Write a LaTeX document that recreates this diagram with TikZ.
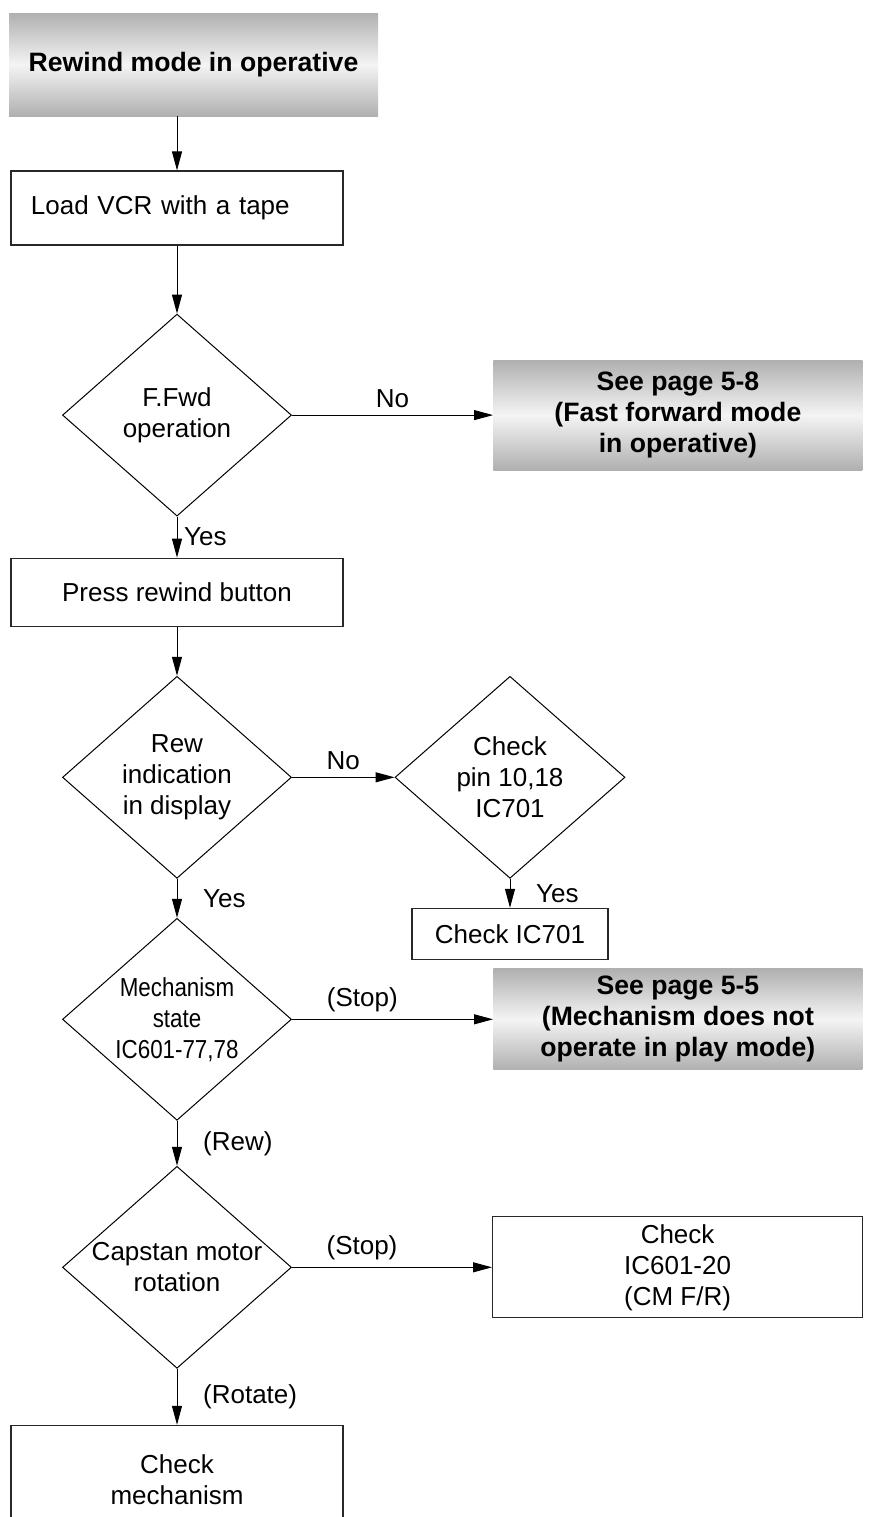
\documentclass[tikz,border=0pt]{standalone}
\usepackage{fontspec}
\setmainfont{Liberation Sans}
\newfontfamily\narrowfont[FakeStretch=0.86]{Liberation Sans}
\usetikzlibrary{shapes.geometric, arrows.meta, positioning}
\definecolor{mydark}{RGB}{40,40,40}
\definecolor{shadeedge}{RGB}{176,176,176}
\definecolor{shademid}{RGB}{244,244,244}
\tikzset{
  stepbox/.style={rectangle, draw=mydark, line width=0.6pt,
    align=center, inner sep=0pt},
  decision/.style={diamond, draw=black, line width=0.5pt, aspect=1.14,
    minimum width=114.5pt, minimum height=101pt,
    inner xsep=-3pt, inner ysep=0pt, align=center},
  refbox/.style={rectangle, top color=shadeedge, bottom color=shadeedge,
    middle color=shademid, align=center, inner sep=0pt,
    minimum width=184.5pt,
    font=\bfseries\fontsize{13.3}{15.5}\selectfont},
  arrow/.style={-{Triangle[length=9.5pt,width=5pt]}, line width=0.5pt},
  lblr/.style={right, xshift=9.5pt}
}

\begin{document}
\begin{tikzpicture}[font=\fontsize{13}{15.5}\selectfont]
  \useasboundingbox (0,0) rectangle (446pt,-758.5pt);
  \node[refbox, minimum height=51.5pt] (title) at (96.75pt,-32.25pt) {Rewind mode in operative};
  \node[stepbox, below=27pt of title, xshift=-8.25pt, minimum height=37pt,
    text width=146pt, inner xsep=10pt, align=left] (load) {Load VCR with a tape};
  \node[decision, below=34pt of load] (fwd) {F.Fwd\\operation};
  \node[refbox, right=100.5pt of fwd, minimum height=55pt] (ffwd) {See page 5-8\\(Fast forward mode\\in operative)};
  \node[stepbox, below=20.5pt of fwd, minimum width=166pt, minimum height=34pt] (press) {Press rewind button};
  \node[decision, below=24.5pt of press] (rew) {Rew\\indication\\in display};
  \node[decision, right=51.25pt of rew, minimum width=115pt] (pin) {Check\\pin 10,18\\IC701};
  \node[stepbox, below=14.5pt of pin, minimum width=98pt, minimum height=25.5pt] (ic701) {Check IC701};
  \node[decision, below=19.5pt of rew, font=\narrowfont\fontsize{13}{15.5}\selectfont] (mech) {Mechanism\\state\\IC601-77,78};
  \node[refbox, right=100.5pt of mech, minimum height=50.5pt] (mechref) {See page 5-5\\(Mechanism does not\\operate in play mode)};
  \node[decision, below=22.5pt of mech] (capstan) {Capstan motor\\rotation};
  \node[stepbox, right=100pt of capstan, minimum width=185pt, minimum height=50.5pt] (cmfr) {Check\\IC601-20\\(CM F/R)};
  \node[stepbox, below=28pt of capstan, minimum width=166pt, minimum height=54pt] (chkmech) {Check\\mechanism};

  \draw[arrow] (title.south -| load.north) -- (load.north);
  \draw[arrow] (load) -- (fwd);
  \draw[arrow] (fwd) -- node[above]{No} (ffwd);
  \draw[arrow] (fwd) -- node[right]{Yes} (press);
  \draw[arrow] (press) -- (rew);
  \draw[arrow] (rew) -- node[above]{No} (pin);
  \draw[arrow] (pin.south) -- node[lblr]{Yes} (pin.south |- ic701.north);
  \draw[arrow] (rew) -- node[lblr]{Yes} (mech);
  \draw[arrow] (mech) -- node[above, pos=0.35]{(Stop)} (mechref);
  \draw[arrow] (mech) -- node[lblr]{(Rew)} (capstan);
  \draw[arrow] (capstan) -- node[above, pos=0.35]{(Stop)} (cmfr);
  \draw[arrow] (capstan) -- node[lblr]{(Rotate)} (chkmech);
\end{tikzpicture}
\end{document}
